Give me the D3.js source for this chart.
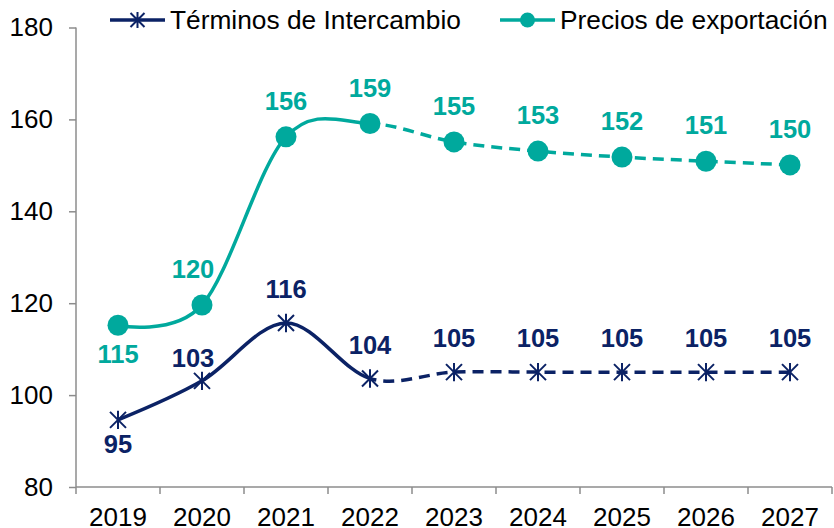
<!DOCTYPE html>
<html>
<head>
<meta charset="utf-8">
<script src="https://cdn.jsdelivr.net/npm/d3@7"></script>
<style>
  body { margin: 0; background: #fff; }
  text { font-family: "Liberation Sans", Arial, sans-serif; }
</style>
</head>
<body>
<svg id="chart" width="834" height="528"></svg>
<script>
// jaren en reeksen
var jaren = ["2019", "2020", "2021", "2022", "2023", "2024", "2025", "2026", "2027"];
var terminos = [94.6, 103.1, 115.7, 103.6, 105.0, 105.0, 105.0, 105.0, 105.0];
var precios = [115.2, 119.6, 156.2, 159.1, 155.1, 153.1, 151.8, 150.9, 150.1];
var labelsTerminos = ["95", "103", "116", "104", "105", "105", "105", "105", "105"];
var labelsPrecios = ["115", "120", "156", "159", "155", "153", "152", "151", "150"];
var yTicks = [80, 100, 120, 140, 160, 180];
var laatsteEcht = "2022"; // daarna prognose (stippellijn)

var navy = "#0B2265", teal = "#00A99D", grijs = "#8c8c8c";

var svg = d3.select("#chart");
var x = d3.scaleBand().domain(jaren).range([76, 832]).padding(0);
var y = d3.scaleLinear().domain([80, 180]).range([487, 27.5]);
var cx = function(d) { return x(d) + x.bandwidth() / 2; };

// assen
var yAxis = d3.axisLeft(y).tickValues(yTicks).tickSize(7).tickPadding(16);
var gy = svg.append("g").attr("transform", "translate(76,0)").call(yAxis);
gy.select(".domain").attr("stroke", grijs).attr("stroke-width", 1.5).attr("d", "M0," + y(180) + "V" + y(80));
gy.selectAll(".tick line").attr("stroke", grijs).attr("stroke-width", 1.5);
gy.selectAll(".tick text").attr("font-size", 26).attr("fill", "#000");

var xAxis = d3.axisBottom(x).tickSize(0).tickPadding(0);
var gx = svg.append("g").attr("transform", "translate(0,487)").call(xAxis);
gx.select(".domain").attr("stroke", grijs).attr("stroke-width", 1.5).attr("d", "M76,0H832");
gx.selectAll(".tick text").attr("font-size", 26).attr("fill", "#000").attr("y", 39).attr("dy", 0);
// tickjes op de grenzen van de categorieën
var grenzen = jaren.map(function(d) { return x(d); }).concat([x.range()[1]]);
gx.selectAll(".grens").data(grenzen).enter().append("line")
  .attr("x1", function(d) { return d; }).attr("x2", function(d) { return d; })
  .attr("y1", 0).attr("y2", 7)
  .attr("stroke", grijs).attr("stroke-width", 1.5);

// clip: doorgetrokken t/m 2022, stippel daarna
var splitX = cx(laatsteEcht);
var defs = svg.append("defs");
defs.append("clipPath").attr("id", "clipEcht").append("rect")
  .attr("x", 0).attr("y", 0).attr("width", splitX).attr("height", 528);
defs.append("clipPath").attr("id", "clipPrognose").append("rect")
  .attr("x", splitX).attr("y", 0).attr("width", 834 - splitX).attr("height", 528);

var lijn = d3.line()
  .x(function(d) { return cx(d.jaar); })
  .y(function(d) { return y(d.v); })
  .curve(d3.curveCardinal.tension(0));

function reeks(waarden) {
  return jaren.map(function(j, i) { return { jaar: j, v: waarden[i] }; });
}

function tekenLijn(data, kleur) {
  svg.append("path").datum(data).attr("d", lijn)
    .attr("fill", "none").attr("stroke", kleur).attr("stroke-width", 3.5)
    .attr("clip-path", "url(#clipEcht)");
  svg.append("path").datum(data).attr("d", lijn)
    .attr("fill", "none").attr("stroke", kleur).attr("stroke-width", 3.5)
    .attr("stroke-dasharray", "11,7").attr("stroke-dashoffset", -6)
    .attr("clip-path", "url(#clipPrognose)");
}

function ster(g, px, py, r, kleur) {
  var p = "M" + (px - r) + "," + (py - r) + "L" + (px + r) + "," + (py + r) +
          "M" + (px - r) + "," + (py + r) + "L" + (px + r) + "," + (py - r) +
          "M" + px + "," + (py - r * 1.15) + "L" + px + "," + (py + r * 1.15);
  g.append("path").attr("d", p).attr("stroke", kleur).attr("stroke-width", 2).attr("fill", "none");
}

var dataT = reeks(terminos), dataP = reeks(precios);
tekenLijn(dataP, teal);
tekenLijn(dataT, navy);

// markers
svg.selectAll(".punt").data(dataP).enter().append("circle")
  .attr("cx", function(d) { return cx(d.jaar); })
  .attr("cy", function(d) { return y(d.v); })
  .attr("r", 10.5).attr("fill", teal);
var gs = svg.append("g");
dataT.forEach(function(d) { ster(gs, cx(d.jaar), y(d.v), 8, navy); });

// labels (eerste punt onder de lijn, rest erboven)
function dyPrecios(i) { return i === 0 ? 38 : -27; }
function dyTerminos(i) { return i === 0 ? 33 : (i === 1 ? -14 : -25); }
function dxLabel(i) { return i === 1 ? -9 : 0; }

svg.selectAll(".lblP").data(dataP).enter().append("text")
  .attr("x", function(d, i) { return cx(d.jaar) + dxLabel(i); })
  .attr("y", function(d, i) { return y(d.v) + dyPrecios(i); })
  .attr("text-anchor", "middle").attr("font-size", 25.5).attr("font-weight", "bold")
  .attr("fill", teal).text(function(d, i) { return labelsPrecios[i]; });
svg.selectAll(".lblT").data(dataT).enter().append("text")
  .attr("x", function(d, i) { return cx(d.jaar) + dxLabel(i); })
  .attr("y", function(d, i) { return y(d.v) + dyTerminos(i); })
  .attr("text-anchor", "middle").attr("font-size", 25.5).attr("font-weight", "bold")
  .attr("fill", navy).text(function(d, i) { return labelsTerminos[i]; });

// legenda
var leg = svg.append("g");
leg.append("line").attr("x1", 110).attr("x2", 165).attr("y1", 20).attr("y2", 20)
  .attr("stroke", navy).attr("stroke-width", 3.5);
ster(leg, 137.5, 20, 7, navy);
leg.append("text").attr("x", 170).attr("y", 29).attr("font-size", 26.3).text("Términos de Intercambio");
leg.append("line").attr("x1", 500).attr("x2", 555).attr("y1", 20).attr("y2", 20)
  .attr("stroke", teal).attr("stroke-width", 3.5);
leg.append("circle").attr("cx", 527.5).attr("cy", 20).attr("r", 7.5).attr("fill", teal);
leg.append("text").attr("x", 560).attr("y", 29).attr("font-size", 26.3).text("Precios de exportación");
</script>
</body>
</html>
